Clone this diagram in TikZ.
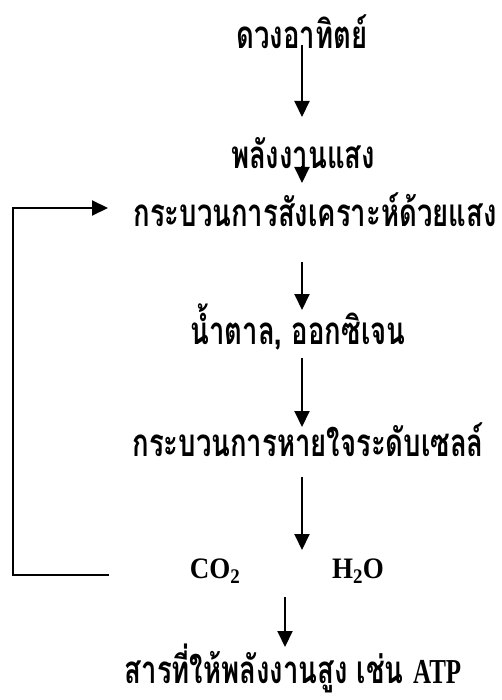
\documentclass[tikz,border=0pt]{standalone}
\usepackage{fontspec}
\setmainfont{Liberation Serif}
\newfontfamily\thaifont[Script=Thai]{Loma}
\usetikzlibrary{arrows.meta}
\newcommand{\thtall}[1]{\scalebox{1}[1.4]{#1}}
\tikzset{
  th/.style={font=\thaifont\bfseries\fontsize{27.5}{30}\selectfont, inner sep=0pt, anchor=center},
  lat/.style={font=\bfseries\fontsize{27}{30}\selectfont, inner sep=0pt, anchor=center},
  arr/.style={line width=2pt, -{Triangle[length=16pt,width=15pt]}}
}
\begin{document}
\begin{tikzpicture}[x=1pt,y=-1pt]
\useasboundingbox (0,0) rectangle (502,700);
\coordinate (ax) at (302,0);
\coordinate (bx) at (285,0);
\node[th] (sun) at (302,32) {\thtall{ดวงอาทิตย์}};
\node[th] (light) at (303,153) {\thtall{พลังงานแสง}};
\node[th] (photo) at (315,210) {\thtall{กระบวนการสังเคราะห์ด้วยแสง}};
\node[th] (sugar) at (298,327) {\thtall{น้ำตาล, ออกซิเจน}};
\node[th] (resp) at (308,440) {\thtall{กระบวนการหายใจระดับเซลล์}};
\node[lat] (co2) at (215,571) {\scalebox{1}[1.1]{CO\textsubscript{2}}};
\node[lat] (h2o) at (358,571) {\scalebox{1}[1.1]{H\textsubscript{2}O}};
\node[th] (atp) at (293,668) {\thtall{สารที่ให้พลังงานสูง เช่น {\rmfamily\fontsize{25}{26}\selectfont ATP}}};
\coordinate (fbstart) at (109,575);
\coordinate (fbleft) at (13,575);
\coordinate (fbend) at (108,208);
\draw[arr] (ax |- 0,45) -- (ax |- 0,117);
\draw[arr] (ax |- 0,166) -- (ax |- 0,183);
\draw[arr] (ax |- 0,262) -- (ax |- 0,310);
\draw[arr] (ax |- 0,358) -- (ax |- 0,427);
\draw[arr] (ax |- 0,477) -- (ax |- 0,550);
\draw[arr] (bx |- 0,597) -- (bx |- 0,647);
\draw[arr] (fbstart) -- (fbleft) |- (fbend);
\end{tikzpicture}
\end{document}
